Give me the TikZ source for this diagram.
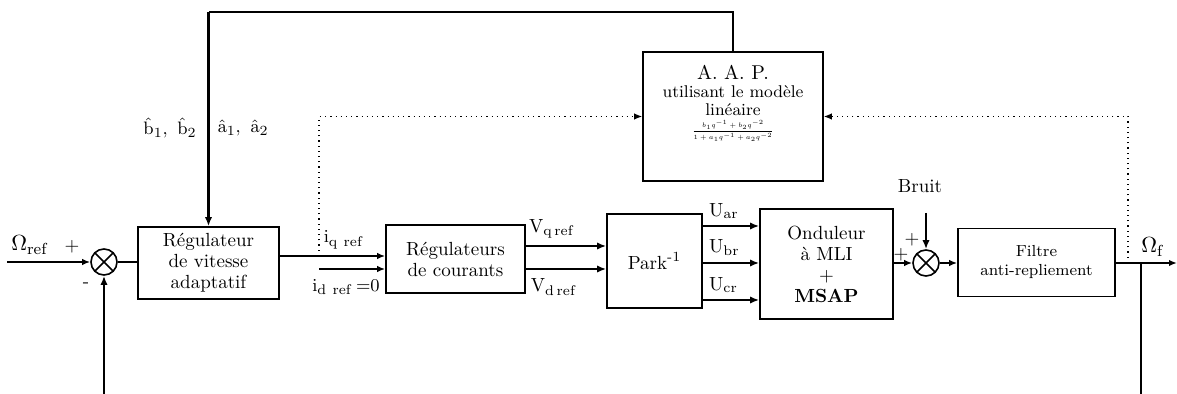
\documentclass[tikz,border=0pt]{standalone}
\usepackage{amsmath, amssymb}
\usepackage{graphicx}
\usepackage{tikz}
\usetikzlibrary{arrows.meta}

\newcommand{\aapfont}{\fontsize{8.5}{9}\selectfont\lineskiplimit=-20pt\relax}

\begin{document}
\begin{tikzpicture}[x = 0.5pt, y = -0.5pt,
    blk/.style = {draw, line width = 0.8pt, align = center, inner sep = 0pt,
                  font = \fontsize{9.5}{10.5}\selectfont},
    sumnode/.style = {draw, circle, line width = 0.8pt, minimum size = 13pt, inner sep = 0pt,
                  path picture = {\draw[line width = 0.8pt]
                      (path picture bounding box.north west) -- (path picture bounding box.south east)
                      (path picture bounding box.south west) -- (path picture bounding box.north east);}},
    sig/.style = {line width = 0.8pt, -{Latex[length = 4pt, width = 3.2pt]}},
    bigsig/.style = {line width = 1.4pt, -{Latex[length = 4.5pt, width = 3.6pt]}},
    fdb/.style = {dotted, line width = 0.6pt, -{Latex[length = 4pt, width = 3.2pt]}},
    lbl/.style = {inner sep = 0pt, font = \fontsize{9.5}{10}\selectfont},
    biglbl/.style = {inner sep = 0pt, font = \fontsize{11}{12}\selectfont}]
            \useasboundingbox (0,0) rectangle (1177,394);
            % blocks
            \node[sumnode] (suma) at (104,262) {};
            \node[blk, minimum width = 70.5pt, minimum height = 36pt] (regv) at (208.5,263)
                {R\'egulateur\\ de vitesse\\ adaptatif};
            \node[blk, minimum width = 69.5pt, minimum height = 34pt] (regc) at (455.5,259)
                {R\'egulateurs\\ de courants};
            \node[blk, minimum width = 47.5pt, minimum height = 47pt] (park) at (654.5,261)
                {Park$^{\text{-}1}$};
            \node[blk, minimum width = 66.5pt, minimum height = 55pt] (ond) at (826.5,264)
                {Onduleur\\ \`a MLI\\ +\\ \textbf{MSAP}};
            \node[sumnode] (sumb) at (926,263) {};
            \node[blk, minimum width = 78.5pt, minimum height = 34pt, font = \fontsize{8}{9.5}\selectfont]
                (filt) at (1036.5,262.5) {Filtre\\ anti-repliement};
            \node[blk, minimum width = 90pt, minimum height = 64.5pt, font = \aapfont]
                (aap) at (733,116.5)
                {{\fontsize{10}{11}\selectfont A. A. P.}\\ utilisant le mod\`ele\\ lin\'eaire\\
                 \scalebox{0.64}{\tiny$\displaystyle\frac{b_1q^{-1}+b_2q^{-2}}{1+a_1q^{-1}+a_2q^{-2}}$}\\[8.5pt]\mbox{}};
            % points
            \coordinate (in) at (7,262);
            \coordinate (botl) at (104,394);
            \coordinate (iq) at (319,256);
            \coordinate (id) at (319,269);
            \coordinate (vq) at (0,246);
            \coordinate (vd) at (0,269);
            \coordinate (bruit) at (926,213);
            \coordinate (om) at (1128,263);
            \coordinate (fb) at (1141,263);
            \coordinate (out) at (1177,263);
            \coordinate (botr) at (1141,394);
            \coordinate (top) at (regv.north |- 0,12);
            % connections
            \draw[sig] (in) -- (suma.west);
            \draw[bigsig] (botl) -- (suma.south);
            \draw[line width = 0.8pt] (suma.east) -- (regv.west |- suma);
            \draw[sig] (regv.east |- iq) -- (regc.west |- iq);
            \draw[sig] (id) -- (regc.west |- id);
            \draw[bigsig] (regc.east |- vq) -- (park.west |- vq);
            \draw[bigsig] (regc.east |- vd) -- (park.west |- vd);
            \foreach \y/\u in {226/ar, 263/br, 300/cr}
                \draw[bigsig] (park.east |- 0,\y)
                    node[lbl, anchor = south west, shift = {(2.5pt,3pt)}] {U$_{\mathrm{\u}}$}
                    -- (ond.west |- 0,\y);
            \draw[sig] (ond.east |- sumb) -- (sumb.west);
            \draw[bigsig] (bruit) -- (sumb.north);
            \draw[sig] (sumb.east) -- (filt.west |- sumb);
            \draw[line width = 1.4pt] (filt.east |- fb) -- (fb);
            \draw[sig] (fb) -- (out);
            \draw[line width = 0.8pt] (fb) -- (botr);
            \draw[fdb] (iq) |- (aap.west);
            \draw[fdb] (om) |- (aap.east);
            \draw[line width = 0.8pt] (aap.north) |- (top);
            \draw[bigsig] (top) -- (regv.north);
            % labels
            \node[biglbl] (lomref) at (30,245) {$\Omega_{\mathrm{ref}}$};
            \node[lbl] (lpa) at (72,247) {+};
            \node[lbl] (lma) at (86,285) {-};
            \node[lbl] (lb) at (170,128) {$\hat{\mathrm{b}}_1,\ \hat{\mathrm{b}}_2$};
            \node[lbl] (la) at (243,128) {$\hat{\mathrm{a}}_1,\ \hat{\mathrm{a}}_2$};
            \node[lbl] (liq) at (344,240) {$\mathrm{i}_{\mathrm{q\ ref}}$};
            \node[lbl] (lid) at (346,287) {$\mathrm{i}_{\mathrm{d\ ref}}\,{=}0$};
            \node[lbl] (lvq) at (552,229) {V$_{\mathrm{q\,ref}}$};
            \node[lbl] (lvd) at (554,287) {V$_{\mathrm{d\,ref}}$};
            \node[lbl] (lbruit) at (920,186) {Bruit};
            \node[lbl] (lpb) at (901,255) {+};
            \node[lbl] (lpc) at (912,240) {+};
            \node[biglbl] (lomf) at (1153,247) {$\Omega_{\mathrm{f}}$};
        \end{tikzpicture}
\end{document}
